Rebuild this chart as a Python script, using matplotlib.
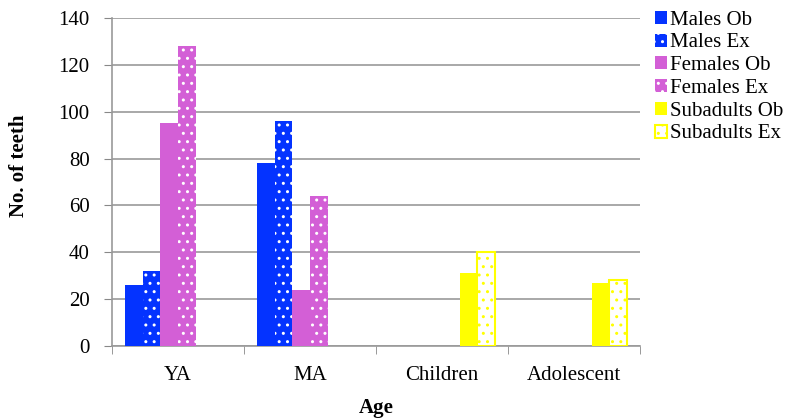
import matplotlib.pyplot as plt
import numpy as np

plt.rcParams['font.family'] = ['Liberation Serif', 'DejaVu Serif']
plt.rcParams['hatch.linewidth'] = 1.0

categories = ['YA', 'MA', 'Children', 'Adolescent']
series = ['Males Ob', 'Males Ex', 'Females Ob', 'Females Ex', 'Subadults Ob', 'Subadults Ex']
males_ob = [26, 78, 0, 0]
males_ex = [32, 96, 0, 0]
females_ob = [95, 24, 0, 0]
females_ex = [128, 64, 0, 0]
sub_ob = [0, 0, 31, 27]
sub_ex = [0, 0, 40, 28]

blue = '#0433FF'
pink = '#D35FD6'
yellow = '#FFFF00'

fig = plt.figure(figsize=(7.86, 4.2), dpi=100)
ax = fig.add_axes([0.1425, 0.176, 0.672, 0.781])

x = np.arange(len(categories))
w = 1 / 7.5
offs = (np.arange(6) - 2.5) * w

styles = [
    dict(color=blue, edgecolor=blue, linewidth=0),
    dict(color=blue, edgecolor='white', linewidth=0, hatch='..'),
    dict(color=pink, edgecolor=pink, linewidth=0),
    dict(color=pink, edgecolor='white', linewidth=0, hatch='..'),
    dict(color=yellow, edgecolor=yellow, linewidth=0),
    dict(color='white', edgecolor=yellow, linewidth=1.5, hatch='..'),
]
data = [males_ob, males_ex, females_ob, females_ex, sub_ob, sub_ex]

for i, (vals, st) in enumerate(zip(data, styles)):
    vals = np.array(vals, dtype=float)
    keep = vals > 0
    ax.bar(x[keep] + offs[i], vals[keep], w, label=series[i], zorder=3, **st)

ax.set_ylim(0, 140)
ax.set_yticks(range(0, 141, 20))
ax.set_xlim(-0.5, 3.5)
ax.set_xticks(x)
ax.set_xticklabels(categories)
ax.set_xticks(np.arange(-0.5, 4, 1), minor=True)
ax.tick_params(axis='x', which='major', length=0, labelsize=15, pad=14)
ax.tick_params(axis='x', which='minor', length=6, color='#888888')
ax.tick_params(axis='y', length=6, color='#888888', labelsize=15, pad=10)
ax.grid(axis='y', color='#999999', linewidth=1.2, zorder=0)
for s in ['top', 'right']:
    ax.spines[s].set_visible(False)
for s in ['left', 'bottom']:
    ax.spines[s].set_color('#999999')
    ax.spines[s].set_linewidth(1.2)

ax.set_ylabel('No. of teeth', fontweight='bold', fontsize=15)
ax.yaxis.set_label_coords(-0.158, 0.549)
ax.set_xlabel('Age', fontweight='bold', fontsize=15, labelpad=10)

ax.legend(loc='upper left', bbox_to_anchor=(1.0, 1.067), frameon=False,
          fontsize=15, handlelength=0.58, handleheight=0.58, handletextpad=0.15,
          labelspacing=0.18, borderaxespad=0.3)

plt.savefig('out.png', dpi=100)
